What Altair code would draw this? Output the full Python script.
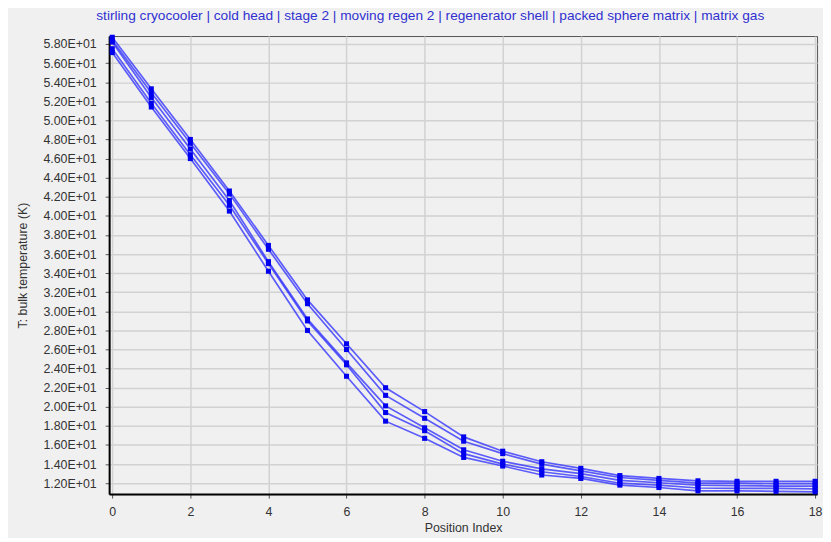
import altair as alt
import pandas as pd

position_index = list(range(19))
series_names = ["s1", "s2", "s3", "s4", "s5"]
s1 = [58.7, 53.3, 48.0, 42.6, 36.9, 31.2, 26.6, 22.0, 19.5, 16.85, 15.35, 14.25, 13.56, 12.8, 12.5, 12.25, 12.2, 12.2, 12.2]
s2 = [58.4, 52.9, 47.6, 42.3, 36.5, 30.8, 26.0, 21.2, 18.8, 16.4, 15.1, 14.0, 13.3, 12.6, 12.3, 12.0, 12.0, 11.95, 11.95]
s3 = [58.2, 52.4, 47.0, 41.6, 35.2, 29.2, 24.6, 20.1, 17.8, 15.5, 14.3, 13.5, 13.0, 12.3, 12.05, 11.8, 11.75, 11.7, 11.7]
s4 = [57.5, 51.8, 46.4, 41.1, 35.0, 29.0, 24.4, 19.4, 17.5, 15.1, 14.0, 13.2, 12.7, 12.0, 11.8, 11.5, 11.45, 11.45, 11.4]
s5 = [57.1, 51.4, 46.0, 40.5, 34.2, 28.0, 23.2, 18.5, 16.7, 14.7, 13.8, 12.86, 12.5, 11.8, 11.55, 11.2, 11.2, 11.15, 11.1]
y_ticks = [12 + 2 * i for i in range(24)]
x_ticks = list(range(0, 19, 2))

rows = []
for name, vals in zip(series_names, [s1, s2, s3, s4, s5]):
    for x, v in zip(position_index, vals):
        rows.append({"series": name, "pos": x, "temp": v})
df = pd.DataFrame(rows)

title_text = "stirling cryocooler | cold head | stage 2 | moving regen 2 | regenerator shell | packed sphere matrix | matrix gas"

x_enc = alt.X("pos:Q", scale=alt.Scale(domain=[-0.08, 18.05], nice=False, zero=False),
              axis=alt.Axis(values=x_ticks, title="Position Index", format="d"))
y_enc = alt.Y("temp:Q", scale=alt.Scale(domain=[10.86, 58.83], nice=False, zero=False),
              axis=alt.Axis(values=y_ticks, title="T: bulk temperature (K)",
                            labelExpr="format(datum.value/10, '.2f') + 'E+01'"))

base = alt.Chart(df).encode(x=x_enc, y=y_enc, detail="series:N")
lines = base.mark_line(color="#2a2aff", strokeWidth=1.7, opacity=0.75)
points = base.mark_point(shape="square", filled=True, size=26, color="#0000ee", opacity=1)

chart = alt.layer(lines, points).properties(
    width=714, height=462,
    title=alt.TitleParams(title_text, anchor="start", frame="group", dx=-13, offset=11, fontSize=13.8,
                          font="Liberation Sans", fontWeight="normal", color="#3030d0"),
    autosize=alt.AutoSizeParams(type="none"),
    padding={"left": 102, "top": 26, "right": 6, "bottom": 42},
    background="#f0f0f0",
).configure_view(
    stroke="#555555", strokeWidth=1, fill="#f0f0f0"
).configure_axis(
    labelFont="Liberation Sans", labelFontSize=12.5, labelColor="#333333",
    titleFont="Liberation Sans", titleFontSize=12.5, titleFontWeight="normal", titleColor="#333333",
    gridColor="#d2d2d2", gridWidth=1.5, domainColor="#000000", domainWidth=2,
    tickColor="#555555", tickSize=4,
).configure_axisY(
    titlePadding=13, labelPadding=9,
).configure_axisX(
    titlePadding=3, labelPadding=8,
)

chart.save("out.html", embed_options={"renderer": "svg", "actions": False})
